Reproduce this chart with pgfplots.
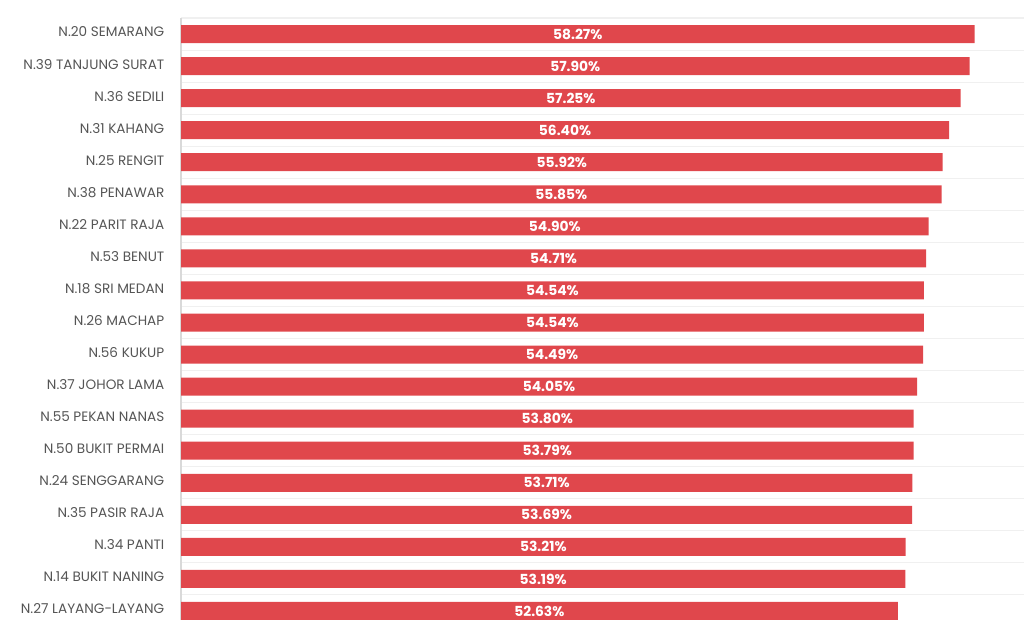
\documentclass[border=0pt]{standalone}
\usepackage{pgfplots}
\pgfplotsset{compat=1.18}
\usepackage{fontspec}
\setmainfont{Poppins}
\definecolor{barred}{RGB}{224,71,76}
\definecolor{lab}{RGB}{85,85,85}
\begin{document}
\begin{tikzpicture}
\useasboundingbox (0,0) rectangle (768pt,-465pt);
\begin{axis}[
  at={(135.75pt,-13.5pt)}, anchor=north west,
  scale only axis, width=632.25pt, height=456.75pt,
  xbar, bar width=13.5pt,
  xmin=0, xmax=61.9,
  ymin=-0.5, ymax=18.5, y dir=reverse,
  axis x line=none,
  axis y line=left,
  y axis line style={-, draw=gray!30, line width=0.8pt},
  ytick={0,...,18},
  yticklabels={N.20 SEMARANG, N.39 TANJUNG SURAT, N.36 SEDILI, N.31 KAHANG, N.25 RENGIT, N.38 PENAWAR, N.22 PARIT RAJA, N.53 BENUT, N.18 SRI MEDAN, N.26 MACHAP, N.56 KUKUP, N.37 JOHOR LAMA, N.55 PEKAN NANAS, N.50 BUKIT PERMAI, N.24 SENGGARANG, N.35 PASIR RAJA, N.34 PANTI, N.14 BUKIT NANING, N.27 LAYANG-LAYANG},
  major tick length=0pt, minor tick length=0pt,
  yticklabel style={font=\fontsize{10.2pt}{12pt}\selectfont, text=lab, xshift=-9pt, yshift=1.5pt},
  minor ytick={-0.5,0.5,...,18.5},
  yminorgrids, minor grid style={draw=gray!12, line width=0.8pt},
  visualization depends on={x \as \rawx},
  nodes near coords={\pgfmathprintnumber[fixed,fixed zerofill,precision=2,assume math mode=true]{\pgfplotspointmeta}\%},
  every node near coord/.append style={font=\bfseries\fontsize{10.4pt}{12pt}\selectfont, text=white, anchor=center, shift={(axis direction cs:-\rawx/2,0)}, yshift=0pt},
]
\addplot[fill=barred, draw=none] coordinates {
(58.27,0) (57.90,1) (57.25,2) (56.40,3) (55.92,4) (55.85,5) (54.90,6) (54.71,7) (54.54,8) (54.54,9) (54.49,10) (54.05,11) (53.80,12) (53.79,13) (53.71,14) (53.69,15) (53.21,16) (53.19,17) (52.63,18)
};
\end{axis}
\end{tikzpicture}
\end{document}
